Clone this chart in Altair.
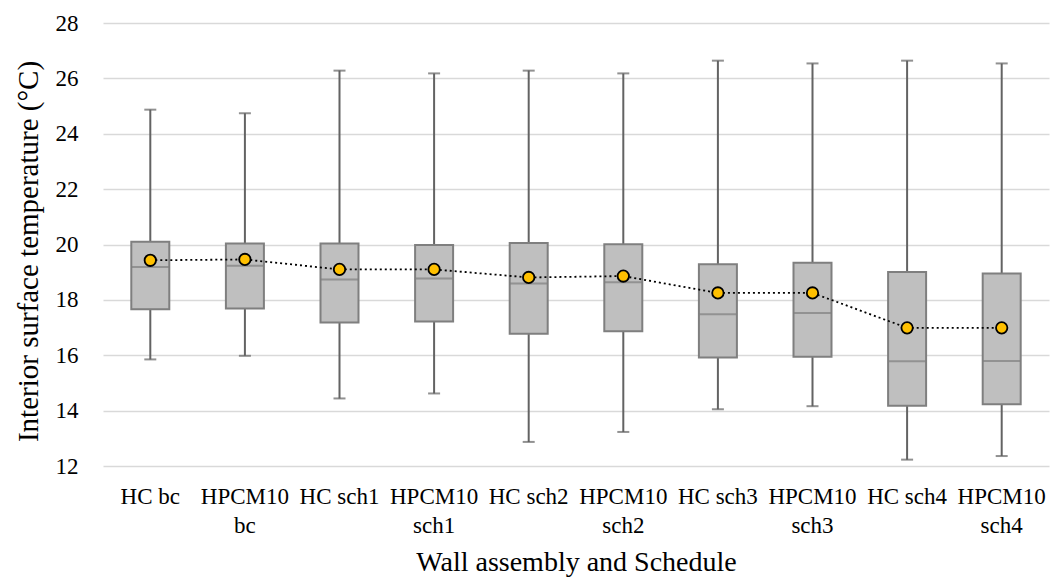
import altair as alt
import pandas as pd

categories = ["HC bc", "HPCM10 bc", "HC sch1", "HPCM10 sch1", "HC sch2",
              "HPCM10 sch2", "HC sch3", "HPCM10 sch3", "HC sch4", "HPCM10 sch4"]
whisker_low = [15.85, 15.98, 14.44, 14.62, 12.87, 13.23, 14.05, 14.16, 12.23, 12.36]
q1 = [17.66, 17.69, 17.18, 17.22, 16.78, 16.87, 15.92, 15.95, 14.18, 14.23]
median = [19.19, 19.23, 18.74, 18.77, 18.59, 18.64, 17.48, 17.53, 15.78, 15.79]
q3 = [20.10, 20.04, 20.04, 19.98, 20.05, 20.01, 19.29, 19.34, 19.01, 18.95]
whisker_high = [24.87, 24.74, 26.28, 26.18, 26.28, 26.18, 26.64, 26.54, 26.64, 26.54]
mean = [19.43, 19.46, 19.10, 19.10, 18.81, 18.86, 18.25, 18.25, 16.99, 16.99]

df = pd.DataFrame({
    "cat": categories, "lo": whisker_low, "q1": q1, "med": median,
    "q3": q3, "hi": whisker_high, "mean": mean,
})

FONT = "Liberation Serif"

x = alt.X("cat:N", sort=categories, title="Wall assembly and Schedule",
          scale=alt.Scale(paddingInner=0, paddingOuter=0),
          axis=alt.Axis(labelAngle=0, domain=False, ticks=False, labelPadding=19,
                        labelExpr="indexof(datum.label,'HPCM10 ')==0 ? ['HPCM10', substring(datum.label,7)] : datum.label",
                        labelLineHeight=29, labelFontSize=23, labelFont=FONT,
                        labelColor="#000000", titleFont=FONT, titleFontSize=28,
                        titleFontWeight="normal", titleColor="#000000",
                        titleY=96, titleBaseline="middle"))

yscale = alt.Scale(domain=[12, 28], nice=False, zero=False)
yaxis = alt.Axis(values=list(range(12, 29, 2)), domain=False, ticks=False,
                 gridColor="#d9d9d9", gridWidth=1.5, labelPadding=25,
                 labelFontSize=23, labelFont=FONT, labelColor="#000000",
                 titleFont=FONT, titleFontSize=29, titleFontWeight="normal",
                 titleColor="#000000", titleX=-75, titleY=228, titleAngle=-90,
                 titleAlign="center", titleBaseline="middle")

base = alt.Chart(df)

whiskers = base.mark_rule(color="#636363", strokeWidth=2).encode(
    x=x,
    y=alt.Y("lo:Q", scale=yscale, axis=yaxis, title="Interior surface temperature (°C)"),
    y2="hi:Q",
)
cap_lo = base.mark_tick(color="#636363", size=12, thickness=2).encode(x=x, y=alt.Y("lo:Q", scale=yscale))
cap_hi = base.mark_tick(color="#636363", size=12, thickness=2).encode(x=x, y=alt.Y("hi:Q", scale=yscale))
boxes = base.mark_bar(size=38, fill="#bfbfbf", stroke="#7f7f7f", strokeWidth=2).encode(
    x=x, y=alt.Y("q1:Q", scale=yscale), y2="q3:Q")
med = base.mark_tick(color="#7f7f7f", size=38, thickness=2).encode(x=x, y=alt.Y("med:Q", scale=yscale))
mean_line = base.mark_line(color="#000000", strokeWidth=1.8, strokeDash=[2, 3]).encode(
    x=x, y=alt.Y("mean:Q", scale=yscale))
mean_pts = base.mark_point(filled=True, fill="#FFC000", stroke="#000000", strokeWidth=1.8,
                           size=130, opacity=1, shape="circle").encode(
    x=x, y=alt.Y("mean:Q", scale=yscale))

chart = alt.layer(whiskers, cap_lo, cap_hi, boxes, med, mean_line, mean_pts).properties(
    width=946, height=443,
    autosize=alt.AutoSizeParams(type="none"),
    padding={"left": 103, "top": 23, "right": 2, "bottom": 112},
    background="white",
).configure_view(stroke=None)

chart.save("out.html", embed_options={"renderer": "svg", "actions": False})
